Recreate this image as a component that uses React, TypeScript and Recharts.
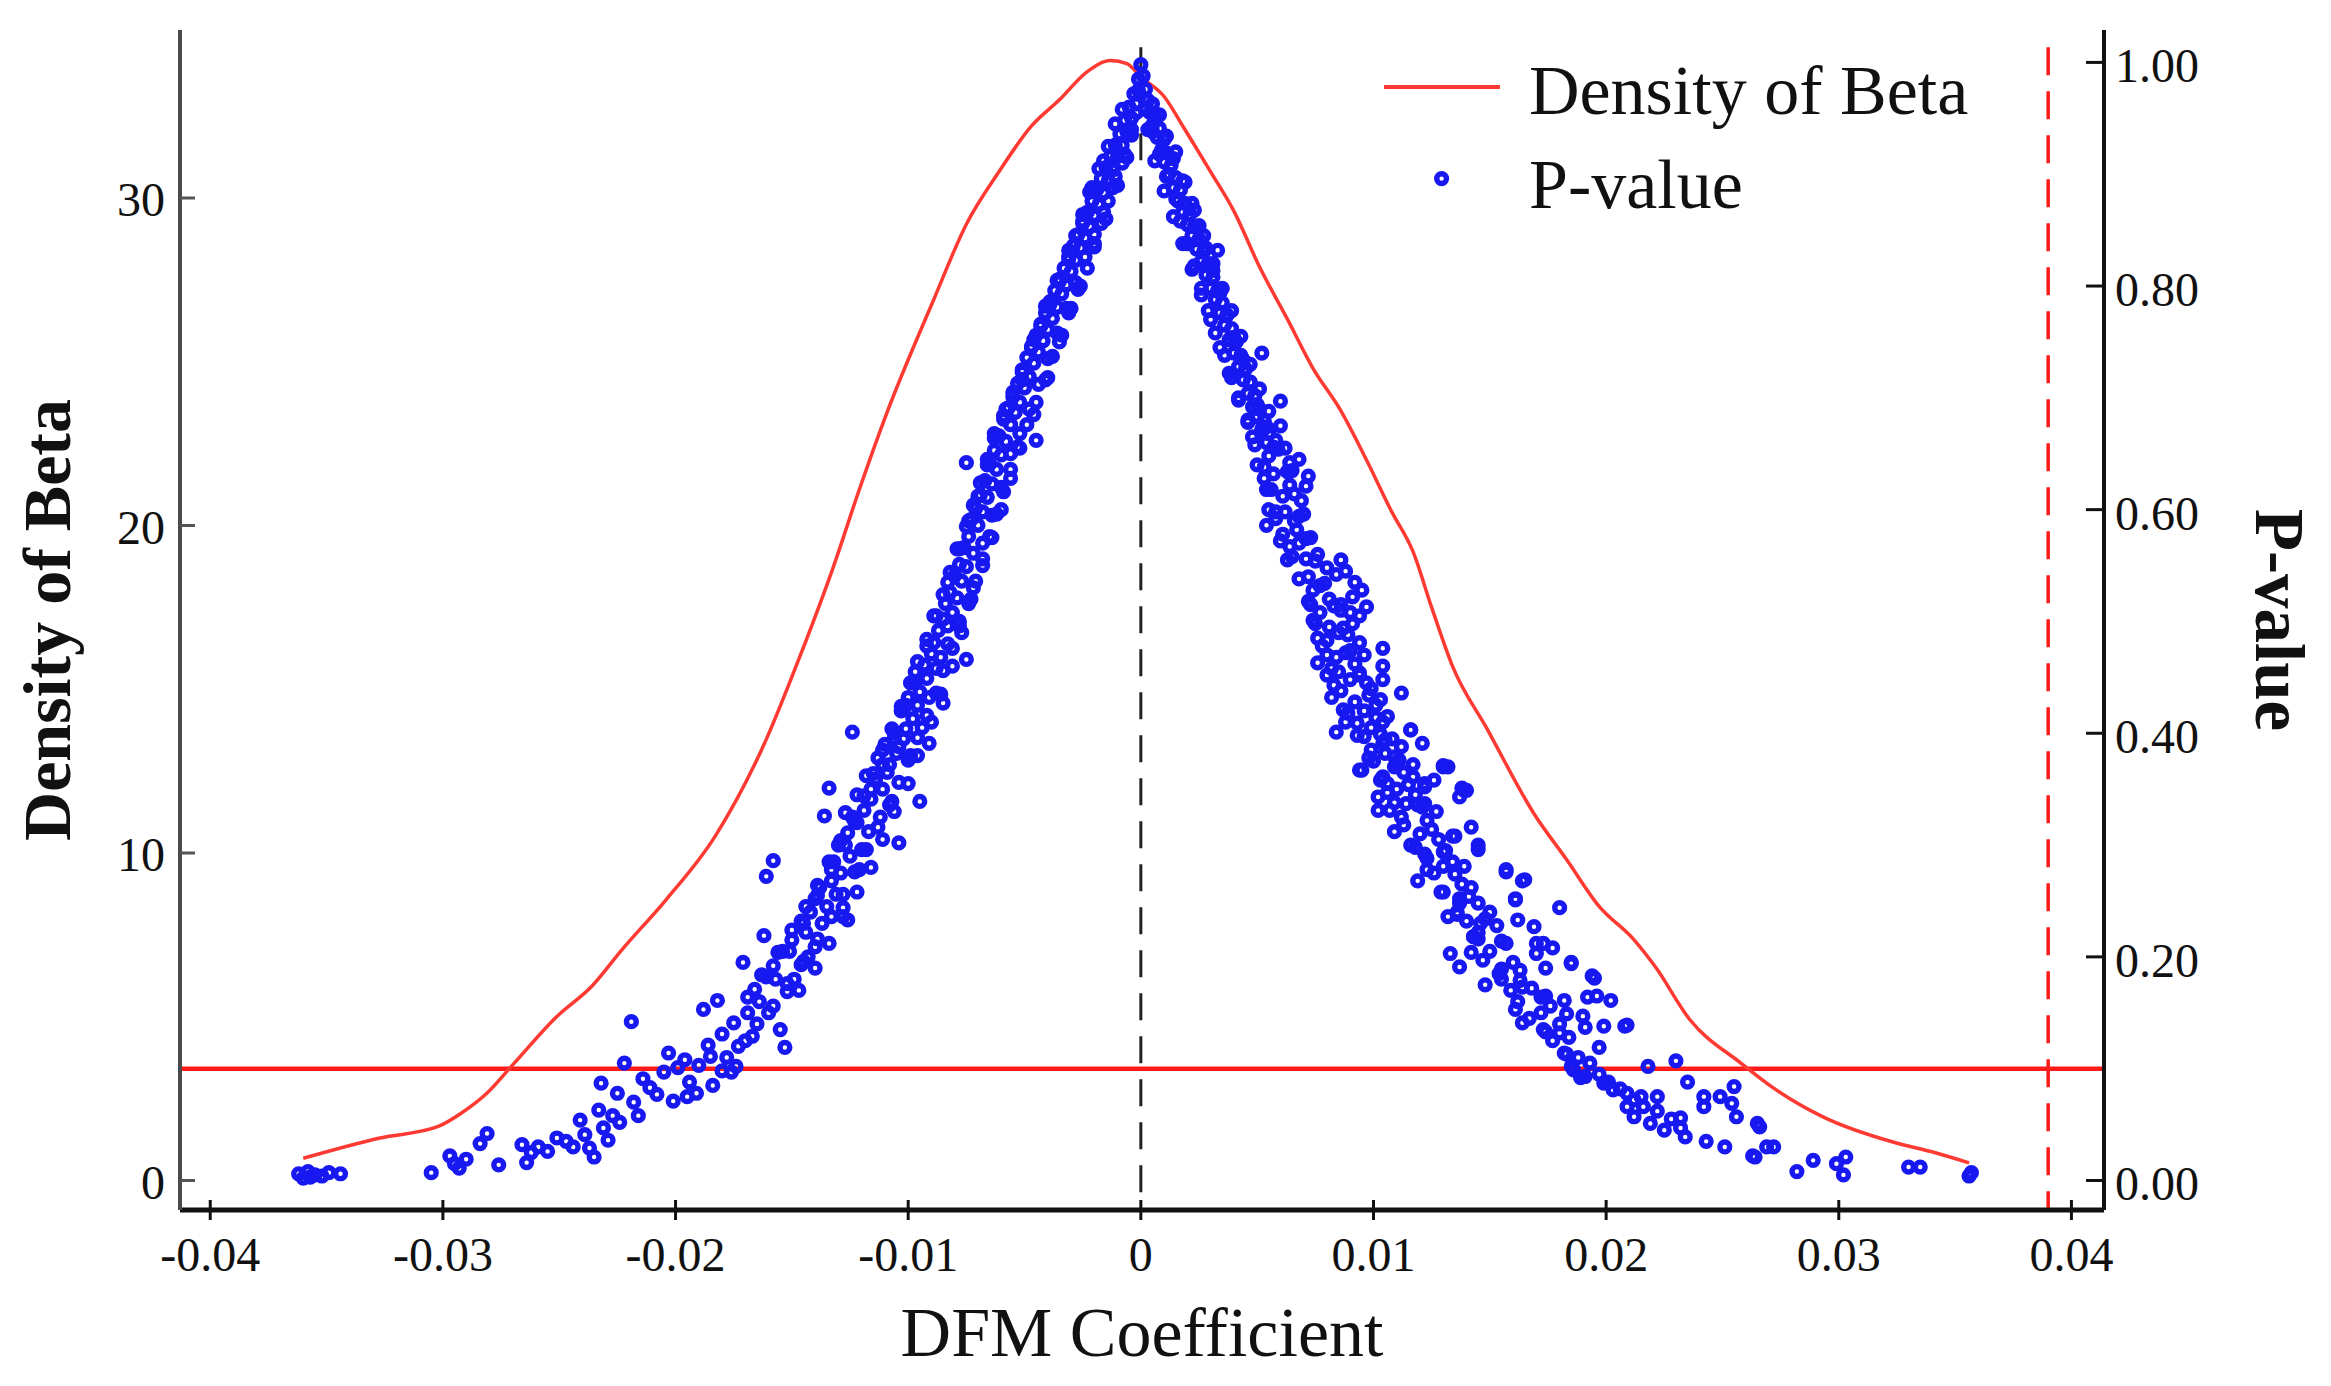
import React from 'react';
import { ComposedChart, XAxis, YAxis, Line, Scatter, ReferenceLine, Legend } from 'recharts';

const FONT = '"Liberation Serif", "Times New Roman", Times, serif';
const CURVE_RED = '#ff3a33';
const LINE_RED = '#ff1a1a';
const BLUE = '#1818f0';

// Density of Beta curve (left axis)
const densityX = [
  -0.036, -0.0327, -0.0302, -0.0292, -0.0281, -0.027, -0.0251, -0.0236, -0.0223, -0.0204,
  -0.0183, -0.0161, -0.0147, -0.0132, -0.0121, -0.0109, -0.0089, -0.0075, -0.0061, -0.0047,
  -0.0035, -0.0023, -0.0013, -0.0006, 0.0, 0.001, 0.0018, 0.003, 0.004, 0.0051,
  0.0063, 0.0074, 0.0086, 0.0097, 0.0108, 0.0117, 0.0125, 0.0134, 0.0149, 0.0169,
  0.0183, 0.0197, 0.0212, 0.0221, 0.0236, 0.0258, 0.0272, 0.0293, 0.0324, 0.034, 0.0356,
];
const densityY = [
  0.68, 1.3, 1.65, 2.06, 2.67, 3.53, 5.01, 5.93, 7.05, 8.58,
  10.51, 13.47, 15.92, 18.77, 21.1, 23.47, 26.9, 29.2, 30.8, 32.2,
  33.0, 33.86, 34.2, 34.1, 33.7, 33.1, 32.2, 30.8, 29.6, 27.9,
  26.3, 24.8, 23.5, 22.0, 20.4, 19.2, 17.5, 15.7, 13.77, 11.2,
  9.8, 8.37, 7.35, 6.54, 4.91, 3.58, 2.82, 1.95, 1.16, 0.88, 0.54,
];

// P-values, left arm (negative coefficients) [coefficient, p]
const pValueLeftArm: [number, number][] = [
  [-0.0362,0.006],[-0.036,0.002],[-0.0358,0.008],[-0.0357,0.003],[-0.0355,0.005],[-0.0352,0.004],[-0.0349,0.007],[-0.0344,0.006],
  [-0.0305,0.007],[-0.0297,0.022],[-0.0295,0.015],[-0.0293,0.011],[-0.029,0.019],[-0.0284,0.033],[-0.0281,0.042],[-0.0276,0.014],
  [-0.0266,0.032],[-0.0264,0.016],[-0.0262,0.025],[-0.0259,0.03],[-0.0255,0.026],[-0.0251,0.038],[-0.0247,0.035],[-0.0244,0.03],
  [-0.0241,0.054],[-0.0239,0.041],[-0.0237,0.029],[-0.0235,0.021],[-0.0233,0.063],[-0.0232,0.087],[-0.0231,0.047],[-0.0229,0.036],
  [-0.0227,0.058],[-0.0225,0.078],[-0.0224,0.052],[-0.0222,0.105],[-0.0219,0.142],[-0.0218,0.07],[-0.0216,0.058],[-0.0214,0.091],
  [-0.0211,0.083],[-0.0208,0.077],[-0.0205,0.097],[-0.0203,0.114],[-0.0201,0.071],[-0.0199,0.101],[-0.0196,0.108],[-0.0194,0.088],
  [-0.0191,0.078],[-0.019,0.103],[-0.0188,0.153],[-0.0186,0.121],[-0.0184,0.085],[-0.0185,0.111],[-0.0182,0.161],[-0.018,0.131],
  [-0.0178,0.11],[-0.0176,0.097],[-0.0174,0.102],[-0.0175,0.141],[-0.0173,0.12],[-0.0171,0.195],[-0.0169,0.15],[-0.0167,0.129],
  [-0.0166,0.171],[-0.0164,0.16],[-0.0162,0.219],[-0.0161,0.182],[-0.0161,0.272],[-0.0158,0.286],[-0.0158,0.192],[-0.0155,0.135],
  [-0.0153,0.119],[-0.0152,0.169],[-0.0154,0.205],[-0.015,0.215],[-0.0149,0.18],[-0.0146,0.193],[-0.0146,0.232],[-0.0144,0.222],
  [-0.0143,0.2],[-0.0142,0.24],[-0.014,0.209],[-0.014,0.252],[-0.0138,0.262],[-0.0137,0.23],[-0.0136,0.326],[-0.0135,0.245],
  [-0.0134,0.351],[-0.0133,0.268],[-0.0132,0.285],[-0.0131,0.256],[-0.013,0.3],[-0.0129,0.275],[-0.0128,0.244],[-0.0127,0.329],
  [-0.0126,0.233],[-0.0126,0.311],[-0.0125,0.29],[-0.0124,0.401],[-0.0123,0.321],[-0.0122,0.345],[-0.0121,0.278],[-0.012,0.296],
  [-0.0119,0.331],[-0.0118,0.362],[-0.0117,0.312],[-0.0116,0.341],[-0.0114,0.359],[-0.0113,0.378],[-0.0112,0.325],[-0.0111,0.35],
  [-0.011,0.39],[-0.0109,0.365],[-0.0108,0.372],[-0.0107,0.339],[-0.0106,0.4],[-0.0105,0.382],[-0.0104,0.302],[-0.0104,0.388],
  [-0.0103,0.42],[-0.0102,0.395],[-0.0101,0.404],[-0.01,0.432],[-0.0099,0.38],[-0.0098,0.413],[-0.0097,0.446],[-0.0096,0.425],
  [-0.0095,0.339],[-0.0095,0.437],[-0.0094,0.405],[-0.0093,0.461],[-0.0092,0.449],[-0.0091,0.391],[-0.0091,0.432],[-0.009,0.471],
  [-0.0089,0.481],[-0.0088,0.458],[-0.0087,0.492],[-0.0086,0.468],[-0.0085,0.427],[-0.0085,0.502],[-0.0084,0.516],[-0.0083,0.48],
  [-0.0083,0.496],[-0.0082,0.526],[-0.0081,0.508],[-0.008,0.541],[-0.0079,0.521],[-0.0078,0.551],[-0.0078,0.5],[-0.0077,0.536],
  [-0.0076,0.566],[-0.0075,0.642],[-0.0075,0.466],[-0.0075,0.549],[-0.0074,0.576],[-0.0073,0.591],[-0.0072,0.561],[-0.0072,0.53],
  [-0.0071,0.601],[-0.007,0.586],[-0.0069,0.613],[-0.0068,0.598],[-0.0068,0.57],[-0.0067,0.626],[-0.0066,0.611],[-0.0065,0.641],
  [-0.0064,0.623],[-0.0064,0.595],[-0.0063,0.653],[-0.0062,0.636],[-0.0061,0.666],[-0.006,0.649],[-0.006,0.62],[-0.0059,0.681],
  [-0.0058,0.661],[-0.0057,0.691],[-0.0056,0.676],[-0.0056,0.65],[-0.0055,0.701],[-0.0054,0.687],[-0.0053,0.713],[-0.0052,0.696],
  [-0.0052,0.668],[-0.0051,0.723],[-0.005,0.709],[-0.0049,0.736],[-0.0048,0.719],[-0.0048,0.69],[-0.0047,0.746],[-0.0046,0.731],
  [-0.0045,0.662],[-0.0045,0.756],[-0.0044,0.741],[-0.0044,0.712],[-0.0043,0.766],[-0.0042,0.751],[-0.0041,0.776],[-0.004,0.761],
  [-0.004,0.735],[-0.0039,0.786],[-0.0038,0.771],[-0.0037,0.796],[-0.0036,0.781],[-0.0036,0.758],[-0.0035,0.806],[-0.0034,0.793],
  [-0.0033,0.816],[-0.0032,0.801],[-0.0032,0.78],[-0.0031,0.826],[-0.003,0.813],[-0.0029,0.836],[-0.0028,0.823],[-0.0028,0.803],
  [-0.0027,0.846],[-0.0026,0.834],[-0.0025,0.856],[-0.0024,0.843],[-0.0024,0.826],[-0.0023,0.866],[-0.0022,0.853],[-0.0021,0.876],
  [-0.002,0.863],[-0.002,0.846],[-0.0019,0.886],[-0.0018,0.873],[-0.0017,0.896],[-0.0016,0.883],[-0.0016,0.866],[-0.0015,0.906],
  [-0.0014,0.894],[-0.0013,0.916],[-0.0012,0.904],[-0.0012,0.888],[-0.0011,0.926],[-0.001,0.916],[-0.0009,0.936],[-0.0008,0.926],
  [-0.0008,0.91],[-0.0007,0.948],[-0.0006,0.938],[-0.0005,0.96],[-0.0004,0.95],[-0.0004,0.935],[-0.0003,0.972],[-0.0002,0.963],
  [-0.0001,0.985],[-0.0001,0.975],[0.0,0.998],
  [-0.0006,0.915],[-0.0016,0.912],[-0.001,0.89],[-0.0021,0.888],[-0.0015,0.86],[-0.0025,0.858],[-0.002,0.835],[-0.0031,0.832],
  [-0.0026,0.8],[-0.0036,0.805],[-0.003,0.78],[-0.0041,0.782],[-0.0035,0.75],[-0.0046,0.752],[-0.004,0.718],[-0.0051,0.716],
  [-0.0046,0.685],[-0.0058,0.69],[-0.0052,0.655],[-0.0063,0.668],[-0.0056,0.628],[-0.0066,0.64],[-0.006,0.6],[-0.007,0.612],
  [-0.0064,0.575],[-0.0074,0.59],[-0.0068,0.55],[-0.0078,0.565],[-0.0073,0.52],[-0.0083,0.535],[-0.0077,0.49],[-0.0088,0.505],
  [-0.0081,0.46],[-0.0092,0.478],[-0.0086,0.435],[-0.0097,0.455],[-0.009,0.41],[-0.0101,0.425],[-0.0096,0.38],[-0.0106,0.395],
  [-0.01,0.355],[-0.0111,0.372],[-0.0106,0.33],[-0.0116,0.35],[-0.0111,0.305],[-0.0122,0.32],[-0.0116,0.28],[-0.0127,0.3],
  [-0.0122,0.258],[-0.0133,0.278],[-0.0128,0.236],[-0.0139,0.255],[-0.0134,0.212],[-0.0145,0.23],[-0.014,0.19],[-0.0151,0.205],
  [-0.0147,0.17],[-0.0157,0.18],[-0.016,0.15],[-0.0165,0.14],[-0.017,0.125],[-0.018,0.098],[-0.0195,0.075],
  [-0.0002,0.955],[-0.0008,0.958],[-0.0011,0.945],[-0.0004,0.94],[-0.0014,0.925],[-0.0007,0.918],[-0.0018,0.905],[-0.0011,0.898],
  [-0.0022,0.884],[-0.0014,0.876],[-0.0025,0.864],[-0.0017,0.856],[-0.0028,0.845],[-0.002,0.838],[-0.0031,0.824],[-0.0023,0.816],
  [-0.0035,0.804],[-0.0027,0.797],[-0.0039,0.784],[-0.0031,0.776],[-0.0043,0.764],[-0.0034,0.756],[-0.0047,0.745],[-0.0038,0.737],
  [-0.0051,0.725],[-0.0041,0.716],[-0.0055,0.705],[-0.0045,0.696],[-0.0059,0.684],[-0.0049,0.676],[-0.0063,0.664],[-0.0053,0.656],
  [-0.0066,0.645],[-0.0056,0.636],[-0.0069,0.624],[-0.0059,0.616],[-0.0072,0.604],[-0.0062,0.596],[-0.0075,0.585],[-0.0065,0.576],
  [-0.0079,0.565],[-0.0068,0.556],[-0.0082,0.544],[-0.0071,0.536],[-0.0085,0.524],[-0.0074,0.516],[-0.0089,0.505],[-0.0078,0.496],
  [-0.0092,0.484],[-0.0081,0.476],[-0.0096,0.464],[-0.0085,0.456],[-0.0099,0.445],[-0.0088,0.436],[-0.0103,0.424],[-0.0092,0.416],
  [-0.0107,0.404],[-0.0096,0.396],[-0.0111,0.385],[-0.01,0.376],[-0.0115,0.364],[-0.0104,0.356],[-0.0119,0.344],[-0.0108,0.336],
  [-0.0124,0.325],[-0.0113,0.316],[-0.0129,0.304],[-0.0118,0.296],[-0.0134,0.285],[-0.0123,0.276],[-0.0139,0.264],[-0.0128,0.256],
  [-0.0144,0.245],[-0.0133,0.236],[-0.015,0.224],[-0.0139,0.216],[-0.0156,0.204],[-0.0145,0.196],[-0.0163,0.184],[-0.0152,0.176],
  [-0.0169,0.164],[-0.0158,0.156],
];

// P-values, right arm (positive coefficients) [coefficient, p]
const pValueRightArm: [number, number][] = [
  [0.0001,0.988],[0.0002,0.976],[0.0003,0.966],[0.0004,0.955],[0.0005,0.963],[0.0005,0.944],[0.0006,0.951],[0.0007,0.933],
  [0.0008,0.941],[0.0003,0.94],[0.0009,0.922],[0.001,0.931],[0.001,0.911],[0.0011,0.919],[0.0006,0.912],[0.0015,0.92],
  [0.0012,0.9],[0.0013,0.908],[0.0014,0.888],[0.0015,0.897],[0.001,0.885],[0.0019,0.893],[0.0016,0.876],[0.0017,0.886],
  [0.0018,0.866],[0.0019,0.874],[0.0014,0.862],[0.0023,0.868],[0.002,0.855],[0.0021,0.864],[0.0022,0.845],[0.0023,0.853],
  [0.0018,0.838],[0.0027,0.845],[0.0024,0.833],[0.0025,0.842],[0.0026,0.822],[0.0027,0.831],[0.0022,0.815],[0.0031,0.82],
  [0.0028,0.81],[0.0029,0.82],[0.003,0.798],[0.0031,0.808],[0.0026,0.792],[0.0035,0.798],[0.0032,0.788],[0.0033,0.796],
  [0.0033,0.832],[0.0034,0.776],[0.0035,0.785],[0.003,0.77],[0.0039,0.778],[0.0036,0.765],[0.0037,0.774],[0.0038,0.752],
  [0.0039,0.762],[0.0034,0.745],[0.0043,0.755],[0.004,0.74],[0.0041,0.75],[0.0042,0.728],[0.0043,0.738],[0.0038,0.722],
  [0.0047,0.73],[0.0044,0.716],[0.0045,0.726],[0.0046,0.704],[0.0047,0.714],[0.0042,0.7],[0.0051,0.708],[0.0048,0.692],
  [0.0049,0.702],[0.005,0.683],[0.0052,0.74],[0.0051,0.69],[0.0046,0.68],[0.0055,0.688],[0.0052,0.67],[0.0053,0.68],
  [0.0054,0.66],[0.0055,0.668],[0.006,0.697],[0.006,0.675],
  [0.005,0.683],[0.0057,0.656],[0.0064,0.642],[0.0054,0.618],[0.0071,0.621],[0.0054,0.586],[0.0067,0.582],[0.0063,0.555],
  [0.0086,0.555],[0.0074,0.528],[0.0091,0.522],[0.0086,0.51],[0.0097,0.513],[0.0091,0.498],[0.0074,0.501],[0.008,0.483],
  [0.0094,0.481],[0.0104,0.476],[0.0076,0.463],[0.0104,0.46],[0.0083,0.443],[0.0097,0.445],[0.0112,0.436],[0.0103,0.43],
  [0.0087,0.421],[0.0084,0.401],[0.0093,0.409],[0.0096,0.397],[0.0116,0.403],[0.0121,0.391],[0.0104,0.391],[0.0099,0.385],
  [0.0111,0.376],[0.0094,0.367],[0.013,0.37],[0.0104,0.361],[0.0117,0.361],[0.0126,0.358],[0.0139,0.349],[0.0102,0.343],
  [0.0114,0.337],[0.0122,0.337],[0.0107,0.331],
  [0.0048,0.665],[0.0052,0.672],[0.0055,0.648],[0.0058,0.662],[0.0062,0.655],[0.0065,0.635],[0.0068,0.645],[0.005,0.64],
  [0.0053,0.628],[0.0057,0.632],[0.0061,0.612],[0.0064,0.622],[0.0069,0.608],[0.0072,0.63],[0.0055,0.6],[0.0058,0.592],
  [0.0062,0.598],[0.0066,0.59],[0.007,0.596],[0.0073,0.575],[0.006,0.572],[0.0064,0.567],[0.0068,0.57],[0.0071,0.556],
  [0.0076,0.56],[0.008,0.548],[0.0084,0.542],[0.0088,0.545],[0.0092,0.535],[0.0095,0.528],[0.0072,0.54],[0.0077,0.532],
  [0.0081,0.52],[0.0086,0.515],[0.009,0.508],[0.0094,0.505],[0.0073,0.515],[0.0077,0.508],[0.0081,0.495],[0.0085,0.49],
  [0.0089,0.488],[0.0076,0.485],[0.008,0.47],[0.0084,0.468],[0.0088,0.472],[0.0092,0.462],[0.0096,0.47],[0.008,0.452],
  [0.0085,0.455],[0.009,0.448],[0.0094,0.452],[0.0099,0.44],[0.0104,0.448],[0.0082,0.432],[0.0092,0.428],[0.0096,0.42],
  [0.0101,0.425],[0.0106,0.415],[0.0088,0.41],[0.0099,0.405],[0.0104,0.41],[0.0108,0.395],[0.0112,0.388],[0.01,0.375],
  [0.0105,0.382],[0.0109,0.37],[0.0113,0.365],[0.0117,0.372],[0.0106,0.355],[0.011,0.35],[0.0118,0.345],[0.0122,0.352],
  [0.0112,0.325],[0.0123,0.322],[0.0127,0.33],[0.0116,0.3],[0.012,0.31],[0.0128,0.305],[0.0122,0.292],[0.0131,0.295],
  [0.0126,0.275],[0.0134,0.285],[0.0138,0.265],[0.013,0.258],[0.0142,0.262],[0.0136,0.24],[0.014,0.232],[0.015,0.24],
  [0.0145,0.222],[0.0153,0.228],[0.015,0.205],[0.0157,0.212],[0.016,0.195],[0.0155,0.18],[0.0163,0.188],[0.0168,0.172],
  [0.0162,0.16],[0.0176,0.156],[0.0172,0.15],[0.018,0.14],[0.0177,0.125],[0.0184,0.128],[0.0188,0.11],[0.0193,0.105],
  [0.0197,0.095],[0.0201,0.088],[0.0206,0.082],[0.0212,0.072],[0.0216,0.066],[0.0222,0.062],[0.0228,0.055],[0.0232,0.047],
  [0.0103,0.399],[0.0116,0.403],[0.0095,0.367],[0.0109,0.379],[0.013,0.371],[0.0106,0.347],[0.0122,0.355],[0.0138,0.351],
  [0.0102,0.331],[0.0119,0.336],[0.0109,0.312],[0.0135,0.308],[0.0142,0.316],[0.0123,0.288],[0.0145,0.3],[0.0157,0.276],
  [0.0164,0.268],[0.0119,0.268],[0.0137,0.252],[0.0145,0.248],[0.0161,0.252],[0.018,0.244],[0.0132,0.236],[0.0145,0.216],
  [0.0142,0.204],[0.017,0.212],[0.0177,0.208],[0.0185,0.195],[0.0155,0.189],[0.0148,0.175],[0.0164,0.173],[0.0194,0.183],
  [0.0174,0.165],[0.0196,0.165],[0.0202,0.161],[0.0161,0.153],[0.0183,0.149],[0.0167,0.145],[0.0209,0.139],[0.0174,0.133],
  [0.0191,0.137],[0.0197,0.119],[0.0183,0.113],[0.0185,0.102],[0.0218,0.102],[0.023,0.107],[0.0189,0.092],
  [0.014,0.349],[0.0137,0.343],[0.0132,0.37],[0.0134,0.308],[0.0145,0.296],[0.013,0.281],[0.0139,0.281],[0.0157,0.278],
  [0.0165,0.269],[0.0161,0.251],[0.0137,0.248],[0.0146,0.23],[0.0162,0.233],[0.0169,0.227],[0.0143,0.218],[0.0133,0.203],
  [0.0147,0.197],[0.0137,0.191],[0.0173,0.212],[0.017,0.203],[0.0185,0.194],[0.0174,0.19],[0.0195,0.181],[0.0154,0.185],
  [0.0163,0.179],[0.0159,0.17],[0.0172,0.164],[0.0192,0.164],[0.0182,0.161],[0.019,0.147],[0.0164,0.141],[0.0173,0.135],
  [0.0199,0.138],[0.0208,0.138],[0.018,0.132],
  [0.0182,0.114],[0.0186,0.099],[0.0191,0.093],[0.0199,0.087],[0.0203,0.081],[0.0209,0.078],[0.0215,0.075],[0.0222,0.075],
  [0.0209,0.066],[0.0212,0.057],[0.0219,0.051],[0.0225,0.045],[0.0232,0.056],[0.0234,0.039],[0.0235,0.088],[0.0242,0.075],
  [0.0242,0.066],[0.0243,0.035],[0.0249,0.075],[0.0251,0.03],[0.0255,0.084],[0.0254,0.069],[0.0256,0.057],[0.0264,0.021],
  [0.0265,0.051],[0.0266,0.048],[0.0269,0.03],[0.0272,0.03],[0.0263,0.022],
  [0.0282,0.008],[0.0289,0.018],[0.0299,0.015],[0.0303,0.021],[0.0302,0.005],[0.033,0.012],[0.0335,0.012],[0.0356,0.004],[0.0357,0.007],
  [0.0002,0.958],[0.0008,0.953],[0.0005,0.938],[0.0011,0.934],[0.0008,0.918],[0.0014,0.914],[0.0011,0.898],[0.0018,0.894],
  [0.0015,0.878],[0.0022,0.874],[0.0017,0.858],[0.0025,0.854],[0.002,0.838],[0.0028,0.834],[0.0023,0.818],[0.0031,0.814],
  [0.0026,0.798],[0.0034,0.794],[0.0029,0.778],[0.0037,0.774],[0.0032,0.758],[0.004,0.754],[0.0036,0.738],[0.0044,0.734],
  [0.0039,0.718],[0.0047,0.714],[0.0042,0.698],[0.005,0.694],[0.0046,0.678],[0.0054,0.674],[0.0049,0.658],[0.0059,0.654],
  [0.0053,0.638],[0.0063,0.634],[0.0056,0.618],[0.0066,0.614],[0.0058,0.598],[0.0068,0.594],[0.0061,0.578],[0.0071,0.574],
  [0.0065,0.558],[0.0075,0.554],[0.0068,0.538],[0.0079,0.534],[0.0072,0.518],[0.0083,0.514],[0.0075,0.498],[0.0087,0.494],
  [0.0078,0.478],[0.009,0.474],[0.0082,0.458],[0.0094,0.454],[0.0086,0.438],[0.0098,0.434],[0.0089,0.418],[0.0101,0.414],
  [0.0093,0.398],[0.0105,0.394],[0.0098,0.378],[0.011,0.374],[0.0103,0.358],[0.0115,0.354],[0.0109,0.338],[0.0121,0.334],
  [0.0113,0.318],[0.0125,0.314],[0.0118,0.298],[0.013,0.294],[0.0123,0.278],[0.0135,0.274],[0.0129,0.258],[0.0141,0.254],
  [0.0136,0.238],[0.0148,0.234],[0.0143,0.218],[0.0155,0.214],
];

const xTicks = [-0.04, -0.03, -0.02, -0.01, 0, 0.01, 0.02, 0.03, 0.04];
const densityTicks = [0, 10, 20, 30];
const pValueTicks = [0, 0.2, 0.4, 0.6, 0.8, 1.0];
const significanceLevel = 0.1;
const cutoffCoefficient = 0.039;

const densityData = densityX.map((x, i) => ({ x, y: densityY[i] }));
const pValueData = [...pValueLeftArm, ...pValueRightArm].map(([x, y]) => ({ x, y }));

const LEFT_MARGIN = 15;
const RIGHT_MARGIN = 11;
const BOTTOM_MARGIN = 10;
const RING_R = 4.9;
const RING_W = 5.4;

const LeftTick = (props: any) => {
  const { x, y, payload } = props;
  const ax = x + LEFT_MARGIN;
  return (
    <g>
      <line x1={ax} x2={ax + 15} y1={y} y2={y} stroke="#555" strokeWidth={3} />
      <text x={ax - 15} y={y + 18} textAnchor="end" fontFamily={FONT} fontSize={48} fill="#111">
        {String(payload.value)}
      </text>
    </g>
  );
};

const RightTick = (props: any) => {
  const { x, y, payload } = props;
  const ax = x - RIGHT_MARGIN;
  return (
    <g>
      <line x1={ax} x2={ax - 18} y1={y} y2={y} stroke="#111" strokeWidth={3} />
      <text x={ax + 11} y={y + 20} textAnchor="start" fontFamily={FONT} fontSize={48} fill="#111">
        {Number(payload.value).toFixed(2)}
      </text>
    </g>
  );
};

const BottomTick = (props: any) => {
  const { x, y, payload } = props;
  const ay = y - BOTTOM_MARGIN;
  const v = Number(payload.value);
  const label = Math.abs(v) < 1e-9 ? '0' : v.toFixed(2);
  return (
    <g>
      <line x1={x} x2={x} y1={ay - 10} y2={ay + 10} stroke="#111" strokeWidth={3} />
      <text x={x} y={ay + 61} textAnchor="middle" fontFamily={FONT} fontSize={48} fill="#111">
        {label}
      </text>
    </g>
  );
};

const Ring = (props: any) => {
  const { cx, cy } = props;
  if (cx == null || cy == null) return null;
  return <circle cx={cx} cy={cy} r={RING_R} fill="none" stroke={BLUE} strokeWidth={RING_W} />;
};

const LegendContent = (props: any) => {
  const payload: any[] = (props.payload || []).slice();
  payload.sort((a, b) => (a.type === 'line' ? -1 : 1) - (b.type === 'line' ? -1 : 1));
  return (
    <svg width={700} height={220} style={{ overflow: 'visible' }}>
      {payload.map((entry, i) => {
        const baseY = 94 + i * 93.6;
        return (
          <g key={i}>
            {entry.type === 'line' ? (
              <line x1={14} x2={130} y1={baseY - 27} y2={baseY - 27} stroke={CURVE_RED} strokeWidth={4} />
            ) : (
              <circle cx={71.6} cy={baseY - 29} r={RING_R} fill="none" stroke={BLUE} strokeWidth={RING_W} />
            )}
            <text x={159} y={baseY} fontFamily={FONT} fontSize={70} fill="#111">
              {entry.value}
            </text>
          </g>
        );
      })}
    </svg>
  );
};

export default function App() {
  return (
    <div style={{ position: 'absolute', left: 0, top: 0, width: 2331, height: 1386, background: '#fff' }}>
      <ComposedChart
        width={2331}
        height={1386}
        margin={{ top: 30, right: 107, bottom: 76, left: 60 }}
      >
        <XAxis
          xAxisId={0}
          type="number"
          dataKey="x"
          domain={[-0.0413, 0.0414]}
          allowDataOverflow
          ticks={xTicks}
          interval={0}
          height={100}
          tickSize={0}
          tickMargin={BOTTOM_MARGIN}
          tick={<BottomTick />}
          axisLine={{ stroke: '#111', strokeWidth: 5 }}
          tickLine={false}
          label={{
            content: (p: any) => {
              const vb = p.viewBox || {};
              return (
                <text x={vb.x + vb.width / 2} y={vb.y + 146} textAnchor="middle" fontFamily={FONT} fontSize={70} fill="#111">
                  DFM Coefficient
                </text>
              );
            },
          }}
        />
        <XAxis
          xAxisId="top"
          orientation="top"
          type="number"
          dataKey="x"
          domain={[-0.0413, 0.0414]}
          allowDataOverflow
          height={0}
          tick={false}
          tickLine={false}
          axisLine={{ stroke: '#111', strokeWidth: 3 }}
        />
        <YAxis
          yAxisId="left"
          orientation="left"
          type="number"
          dataKey="y"
          domain={[-0.9, 35.13]}
          allowDataOverflow
          ticks={densityTicks}
          interval={0}
          width={120}
          tickSize={0}
          tickMargin={LEFT_MARGIN}
          tick={<LeftTick />}
          tickLine={false}
          axisLine={{ stroke: '#4a4a4a', strokeWidth: 4 }}
          label={{
            content: (p: any) => {
              const vb = p.viewBox || {};
              const tx = vb.x + 10;
              const ty = vb.y + vb.height / 2;
              return (
                <text x={tx} y={ty} transform={`rotate(-90, ${tx}, ${ty})`} textAnchor="middle" fontFamily={FONT} fontWeight="bold" fontSize={68} fill="#111">
                  Density of Beta
                </text>
              );
            },
          }}
        />
        <YAxis
          yAxisId="right"
          orientation="right"
          type="number"
          dataKey="y"
          domain={[-0.0264, 1.029]}
          allowDataOverflow
          ticks={pValueTicks}
          interval={0}
          width={120}
          tickSize={0}
          tickMargin={RIGHT_MARGIN}
          tick={<RightTick />}
          tickLine={false}
          axisLine={{ stroke: '#111', strokeWidth: 4 }}
          label={{
            content: (p: any) => {
              const vb = p.viewBox || {};
              const tx = vb.x + 152;
              const ty = vb.y + vb.height / 2;
              return (
                <text x={tx} y={ty} transform={`rotate(90, ${tx}, ${ty})`} textAnchor="middle" fontFamily={FONT} fontWeight="bold" fontSize={69} fill="#111">
                  P-value
                </text>
              );
            },
          }}
        />
        <ReferenceLine
          yAxisId="left"
          segment={[{ x: 0, y: 34.6 }, { x: 0, y: -0.9 }]}
          stroke="#222"
          strokeWidth={3}
          strokeDasharray="27 16"
        />
        <ReferenceLine
          yAxisId="left"
          segment={[{ x: cutoffCoefficient, y: 34.6 }, { x: cutoffCoefficient, y: -0.9 }]}
          stroke={LINE_RED}
          strokeWidth={3.5}
          strokeDasharray="28 16"
        />
        <ReferenceLine yAxisId="right" y={significanceLevel} stroke={LINE_RED} strokeWidth={4.5} />
        <Line
          yAxisId="left"
          data={densityData}
          dataKey="y"
          name="Density of Beta"
          type="monotone"
          stroke={CURVE_RED}
          strokeWidth={3.5}
          dot={false}
          activeDot={false}
          isAnimationActive={false}
          legendType="line"
        />
        <Scatter
          yAxisId="right"
          data={pValueData}
          dataKey="y"
          name="P-value"
          fill={BLUE}
          shape={<Ring />}
          isAnimationActive={false}
          legendType="circle"
        />
        <Legend
          layout="vertical"
          align="center"
          verticalAlign="middle"
          content={<LegendContent />}
          wrapperStyle={{ left: 1370, top: 20, width: 700, height: 220, right: 'auto', bottom: 'auto' }}
        />
      </ComposedChart>
    </div>
  );
}
